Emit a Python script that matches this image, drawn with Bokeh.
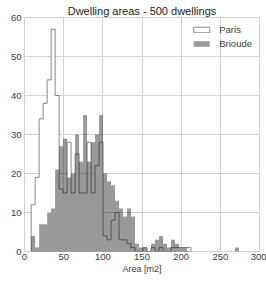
import numpy as np
from bokeh.plotting import figure
from bokeh.models import Legend, LegendItem, FixedTicker, Range1d
from bokeh.embed import file_html
from bokeh.resources import INLINE

# histogram bins (m2)
bin_start = 8.5
bin_width = 5.1
paris_counts = [12, 19, 34, 38, 44, 57, 40, 16, 15, 28, 15, 25, 15, 15, 28, 15, 22, 28,
                4, 3, 8, 10, 3, 3, 2, 1, 0, 0, 1, 0, 1, 0, 1, 0, 0, 1, 1, 1, 1, 1]
brioude_counts = [4, 1, 7, 7, 10, 11, 21, 27, 29, 19, 20, 30, 23, 35, 23, 28, 30, 35,
                  20, 18, 17, 13, 11, 9, 11, 9, 2, 1, 1, 0, 2, 3, 4, 2, 1, 3, 2, 1, 1, 0,
                  0, 0, 0, 0, 0, 0, 0, 0, 0, 0, 0, 1]
x_ticks = [0, 50, 100, 150, 200, 250, 300]
y_ticks = [0, 10, 20, 30, 40, 50, 60]
title_text = "Dwelling areas - 500 dwellings"
x_label = "Area [m2]"

FONT = "Liberation Sans"


def step_polygon(counts):
    edges = bin_start + bin_width * np.arange(len(counts) + 1)
    xs = [edges[0]]
    ys = [0]
    for i, c in enumerate(counts):
        xs += [edges[i], edges[i + 1]]
        ys += [c, c]
    xs.append(edges[-1])
    ys.append(0)
    return xs, ys


p = figure(width=266, height=285, output_backend="svg", toolbar_location=None,
           x_range=Range1d(0, 300), y_range=Range1d(0, 60), title=title_text,
           min_border_left=24, min_border_right=7, min_border_top=17, min_border_bottom=34)
p.background_fill_color = "white"
p.border_fill_color = "white"
p.outline_line_color = "#d0d0d0"
p.outline_line_width = 1

p.title.align = "center"
p.title.text_font = FONT
p.title.text_font_size = "11px"
p.title.text_font_style = "normal"
p.title.text_color = "#222222"
p.title.standoff = 2
p.title.offset = 0

px, py = step_polygon(paris_counts)
bx, by = step_polygon(brioude_counts)
r_paris = p.patch(px, py, fill_color="white", line_color="#6a6a6a", line_width=0.8)
r_brioude = p.patch(bx, by, fill_color="black", fill_alpha=0.4, line_color=None)

for ax in (p.xaxis[0], p.yaxis[0]):
    ax.axis_line_color = None
    ax.major_tick_line_color = None
    ax.minor_tick_line_color = None
    ax.major_tick_out = 0
    ax.major_tick_in = 0
    ax.minor_tick_out = 0
    ax.minor_tick_in = 0
    ax.major_label_text_font = FONT
    ax.major_label_text_font_size = "9.5px"
    ax.major_label_text_color = "#3a3a3a"
p.xaxis.ticker = FixedTicker(ticks=x_ticks)
p.yaxis.ticker = FixedTicker(ticks=y_ticks)
p.xaxis.major_label_standoff = 2
p.yaxis.major_label_standoff = 3
p.xaxis.axis_label = x_label
p.xaxis.axis_label_text_font = FONT
p.xaxis.axis_label_text_font_size = "9px"
p.xaxis.axis_label_text_font_style = "normal"
p.xaxis.axis_label_text_color = "#3a3a3a"
p.xaxis.axis_label_standoff = 1

p.xgrid.ticker = FixedTicker(ticks=x_ticks)
p.ygrid.ticker = FixedTicker(ticks=y_ticks)
p.grid.grid_line_color = "#d0d0d0"
p.grid.grid_line_width = 1

legend = Legend(items=[LegendItem(label="Paris", renderers=[r_paris]),
                       LegendItem(label="Brioude", renderers=[r_brioude])],
                location="top_right", background_fill_alpha=0, border_line_color=None,
                label_text_font=FONT, label_text_font_size="9.5px", label_text_color="#3a3a3a",
                glyph_width=20, glyph_height=7, spacing=3, padding=2, margin=7,
                label_standoff=8, label_height=8)
p.add_layout(legend)

open("out.html", "w").write(file_html(p, INLINE))
